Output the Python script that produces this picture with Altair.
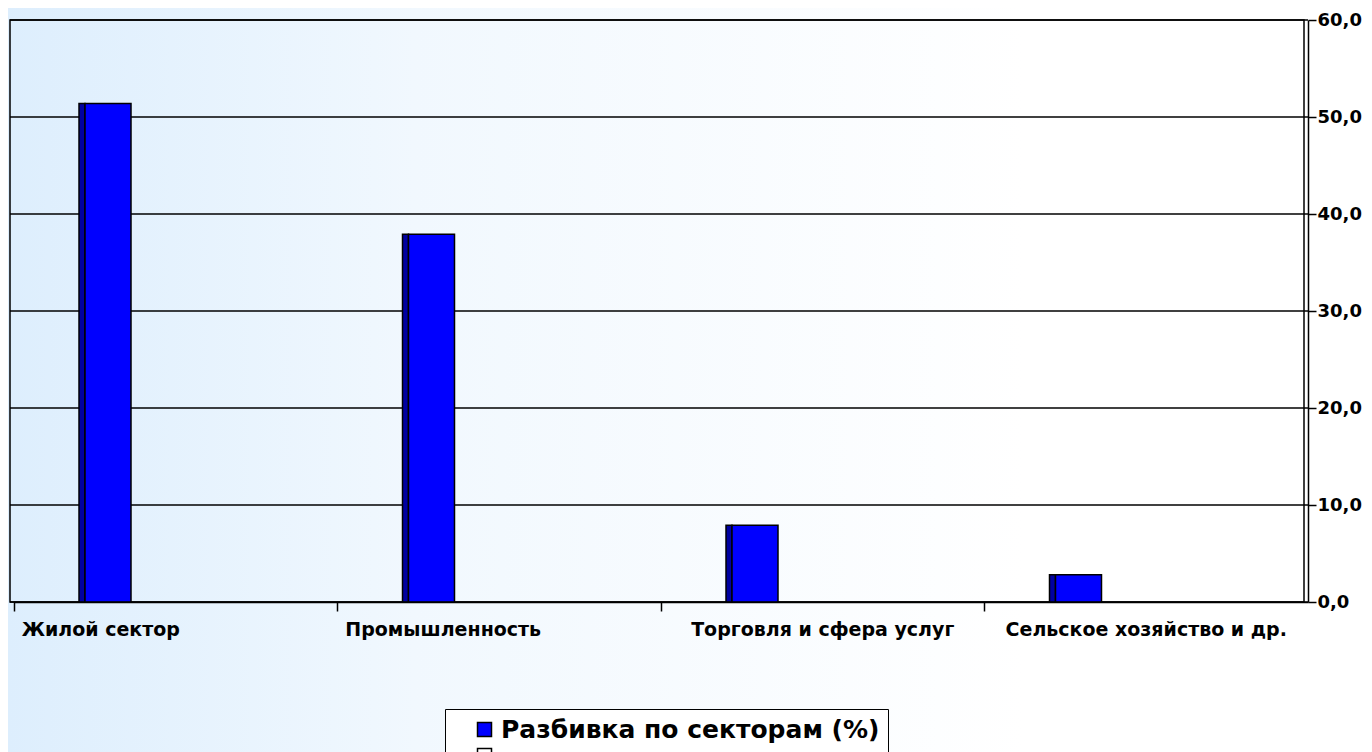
import altair as alt
import pandas as pd

categories = ["Жилой сектор", "Промышленность", "Торговля и сфера услуг", "Сельское хозяйство и др."]
values = [51.4, 37.9, 7.9, 2.8]
series_names = ["Разбивка по секторам (%)", " "]
y_ticks = [0, 10, 20, 30, 40, 50, 60]

df = pd.DataFrame({"category": categories, "value": values, "series": [series_names[0]] * len(categories)})
ticks_df = pd.DataFrame({"value": y_ticks})

W, H = 1294, 582
PAD = {"left": 6, "top": 12, "right": 56, "bottom": 150}
FONT = "DejaVu Sans"

x_enc = alt.X(
    "category:N",
    sort=categories,
    scale=alt.Scale(paddingInner=0, paddingOuter=0),
    axis=alt.Axis(
        title=None, bandPosition=0, grid=False, zindex=1,
        domainColor="black", domainWidth=1.5,
        tickColor="black", tickWidth=1.5, tickSize=9,
        labelAngle=0, labelFont=FONT, labelFontSize=19, labelFontWeight="bold",
        labelColor="black", labelPadding=9, labelLimit=0, labelBaseline="top",
        labelAlign={"condition": {"test": "datum.index < 0.5", "value": "left"}, "value": "center"},
        labelOffset={"condition": {"test": "datum.index < 0.5", "value": -154}, "value": 0},
    ),
)
y_enc = alt.Y(
    "value:Q",
    scale=alt.Scale(domain=[0, 60], nice=False),
    axis=alt.Axis(
        orient="right", values=y_ticks, title=None, grid=False, zindex=1,
        labelExpr="replace(format(datum.value, '.1f'), '.', ',')",
        domainColor="black", domainWidth=1.5,
        tickColor="black", tickWidth=1.5, tickSize=8,
        labelFont=FONT, labelFontSize=18, labelFontWeight="bold", labelColor="black",
        labelPadding=1,
    ),
)

gradient = alt.LinearGradient(
    gradient="linear",
    stops=[alt.GradientStop(color="#DDEEFD", offset=0),
           alt.GradientStop(color="#F1F8FE", offset=0.3),
           alt.GradientStop(color="#FFFFFF", offset=0.75)],
    x1=0, x2=1, y1=0, y2=0,
)

one = alt.Data(values=[{"k": 1}])

bg = alt.Chart(one).mark_rect(fill=gradient).encode(
    x=alt.value(-PAD["left"]), x2=alt.value(W + PAD["right"]),
    y=alt.value(-PAD["top"]), y2=alt.value(H + PAD["bottom"]),
)

frame = alt.Chart(one).mark_rect(fillOpacity=0, stroke="black", strokeWidth=1.5).encode(
    x=alt.value(-4), x2=alt.value(W - 4), y=alt.value(0), y2=alt.value(H),
)

grid = alt.Chart(ticks_df).mark_rule(color="black", strokeWidth=1.5).encode(
    y=y_enc, x=alt.value(-4), x2=alt.value(W),
)

base = alt.Chart(df)

dark = base.mark_bar(color="#0000A0", stroke="black", strokeWidth=1.5, width=6, xOffset=-93.75).encode(
    x=x_enc, y=y_enc
)

bright = base.mark_bar(stroke="black", strokeWidth=1.5, width=46, xOffset=-67.75).encode(
    x=x_enc, y=y_enc,
    color=alt.Color(
        "series:N",
        scale=alt.Scale(domain=series_names, range=["#0000FF", "#FFFFFF"]),
        legend=alt.Legend(
            title=None, orient="none", legendX=431, legendY=689, direction="vertical",
            strokeColor="black", fillColor="white", padding=8,
            symbolType="square", symbolSize=196, symbolStrokeColor="black", symbolStrokeWidth=1.5,
            symbolOffset=19, labelOffset=4,
            labelFont=FONT, labelFontSize=25, labelFontWeight="bold", labelColor="black",
            labelLimit=0, rowPadding=0,
        ),
    ),
)

chart = alt.layer(bg, frame, grid, dark, bright).properties(
    width=W, height=H,
    autosize=alt.AutoSizeParams(type="none"),
    padding=PAD,
).configure_view(strokeWidth=0)

chart.save("out.html", embed_options={"renderer": "svg", "actions": False})
